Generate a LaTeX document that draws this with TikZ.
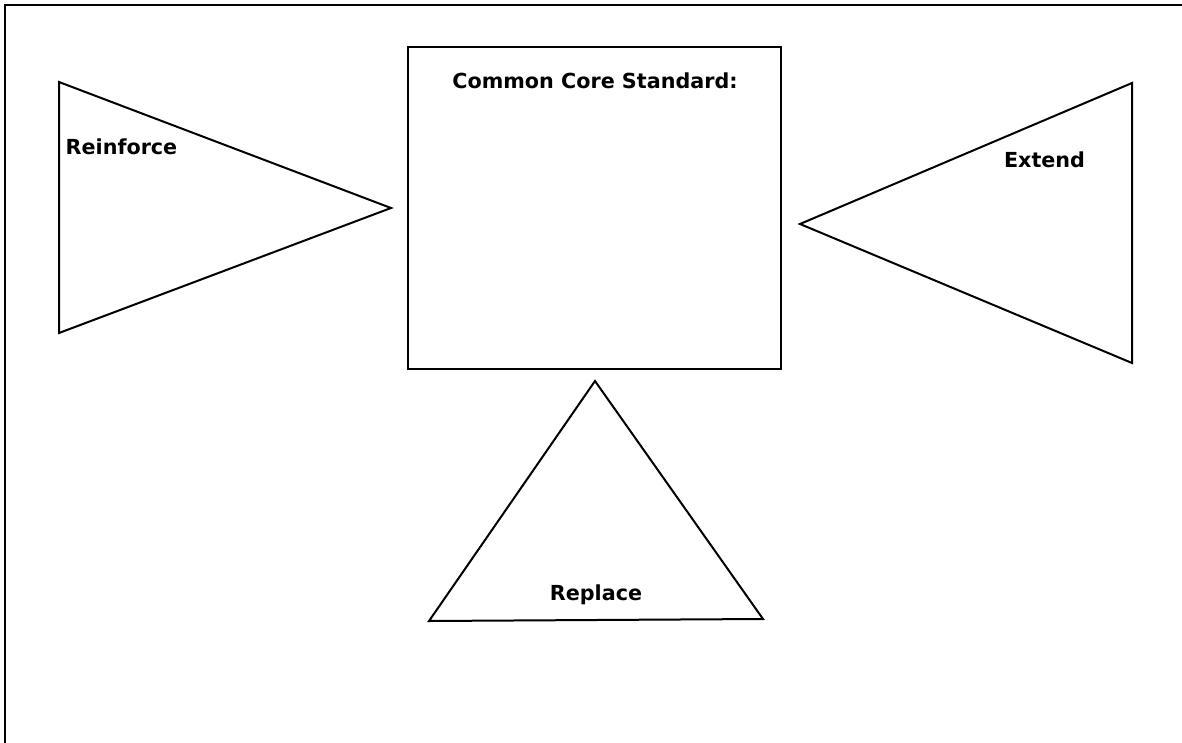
\documentclass[tikz,border=0pt]{standalone}
\usepackage{fontspec}
\setmainfont{DejaVu Sans}
\begin{document}
\begin{tikzpicture}[x=1pt,y=-1pt,
  outl/.style={draw=black,line width=2pt,line join=miter},
  lbl/.style={font=\fontsize{20.7}{24}\selectfont\bfseries,inner sep=0pt,anchor=center}]
\useasboundingbox (0,0) rectangle (1182,743);
\coordinate (bl) at (5,743);
\coordinate (tl) at (5,5);
\coordinate (tr) at (1182,5);
\draw[line width=2.5pt] (bl) -- (tl) -- (tr);
% center box
\node[outl,minimum width=373pt,minimum height=322pt,inner sep=0pt] (box) at (594.5,208) {};
\node[lbl] (cct) at (595,81) {Common Core Standard:};
% left triangle
\coordinate (L1) at (59,82);
\coordinate (L2) at (391,208);
\coordinate (L3) at (59,333);
\draw[outl] (L1) -- (L2) -- (L3) -- cycle;
\node[lbl] (rein) at (121.5,147) {Reinforce};
% right triangle
\coordinate (R1) at (1132,83);
\coordinate (R2) at (800,224);
\coordinate (R3) at (1132,363);
\draw[outl] (R1) -- (R2) -- (R3) -- cycle;
\node[lbl] (ext) at (1044.5,160) {Extend};
% bottom triangle
\coordinate (B1) at (595,381);
\coordinate (B2) at (763,619);
\coordinate (B3) at (429,621);
\draw[outl] (B1) -- (B2) -- (B3) -- cycle;
\node[lbl] (rep) at (596,595) {Replace};
\end{tikzpicture}
\end{document}
